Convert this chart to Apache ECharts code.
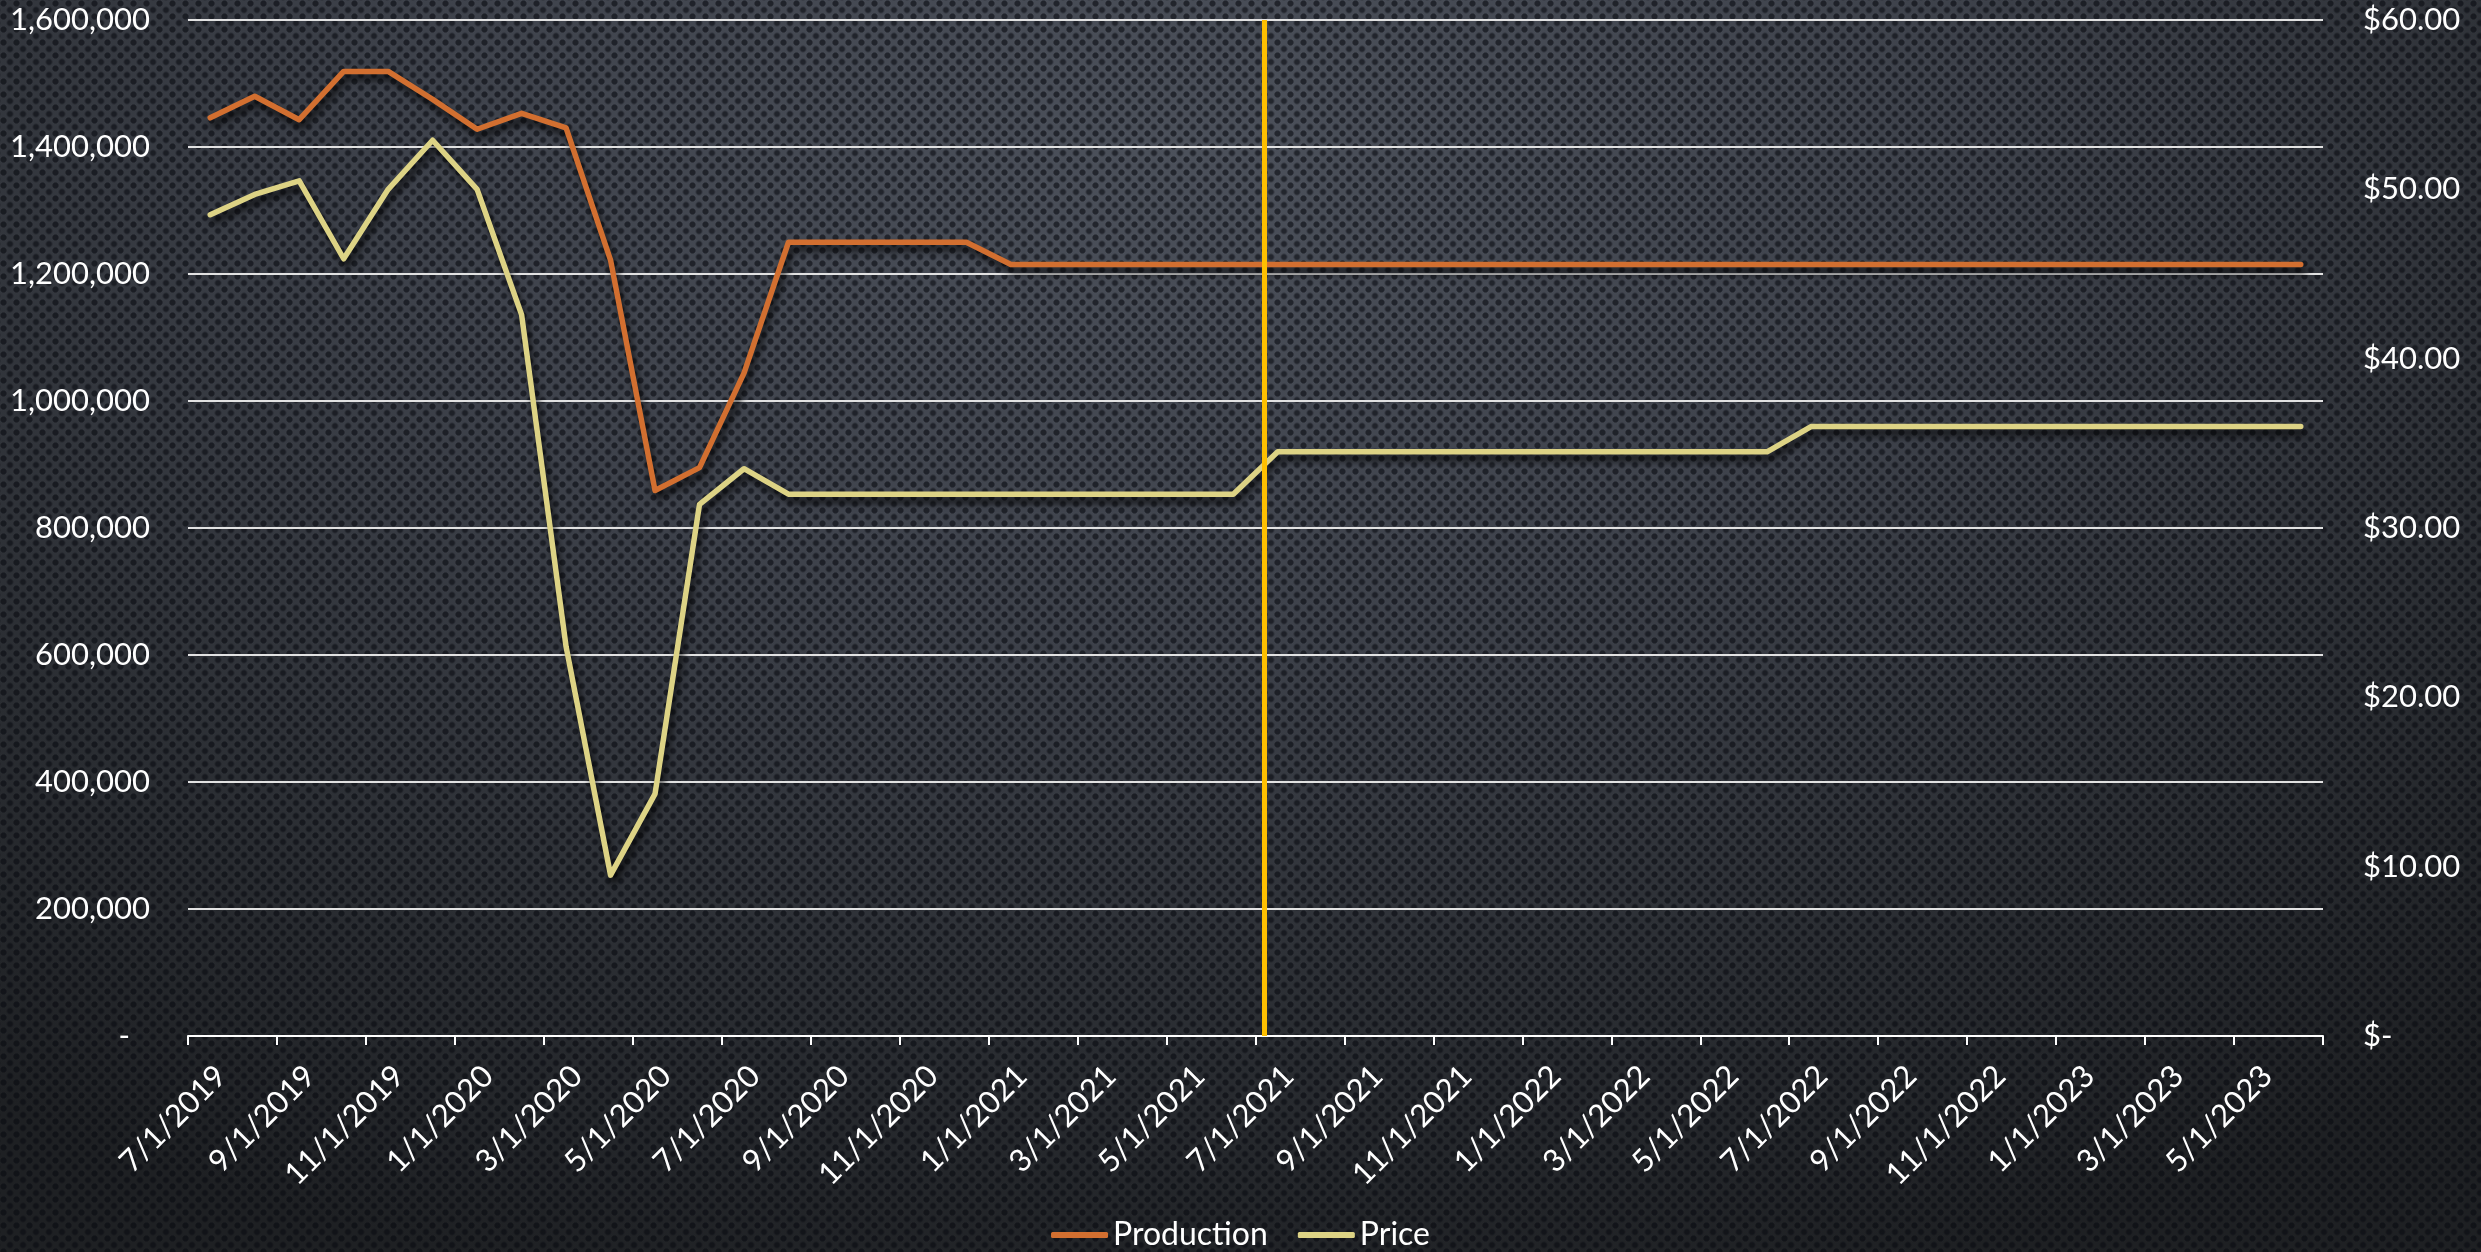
<!DOCTYPE html>
<html>
<head>
<meta charset="utf-8">
<script src="https://cdn.jsdelivr.net/npm/echarts@6/dist/echarts.min.js"></script>
<style>
html,body{margin:0;padding:0;background:#1d1f22;}
#wrap{width:2481px;height:1252px;position:relative;overflow:hidden;
background:
radial-gradient(circle at 3.5px 3.5px, rgba(8,10,16,0.6) 2.5px, rgba(8,10,16,0) 3.6px) 0 0/13px 13px,
radial-gradient(circle at 3.5px 3.5px, rgba(8,10,16,0.6) 2.5px, rgba(8,10,16,0) 3.6px) 6.5px 6.5px/13px 13px,
radial-gradient(ellipse 80% 95% at 48% 12%, #4c515b 0%, #3e424b 40%, #2a2d32 75%, #1e2023 100%);}
#chart{width:2481px;height:1252px;}
</style>
</head>
<body>
<div id="wrap"><div id="chart"></div></div>
<script>
// Month categories (one data point per month)
const months = [
  '7/1/2019','8/1/2019','9/1/2019','10/1/2019','11/1/2019','12/1/2019',
  '1/1/2020','2/1/2020','3/1/2020','4/1/2020','5/1/2020','6/1/2020',
  '7/1/2020','8/1/2020','9/1/2020','10/1/2020','11/1/2020','12/1/2020',
  '1/1/2021','2/1/2021','3/1/2021','4/1/2021','5/1/2021','6/1/2021',
  '7/1/2021','8/1/2021','9/1/2021','10/1/2021','11/1/2021','12/1/2021',
  '1/1/2022','2/1/2022','3/1/2022','4/1/2022','5/1/2022','6/1/2022',
  '7/1/2022','8/1/2022','9/1/2022','10/1/2022','11/1/2022','12/1/2022',
  '1/1/2023','2/1/2023','3/1/2023','4/1/2023','5/1/2023','6/1/2023'
];

// Production (left axis)
const production = [
  1446000, 1480000, 1443000, 1519000, 1519000, 1475000,
  1428000, 1453000, 1430000, 1222000, 859000, 895000,
  1044000, 1250000, 1250000, 1250000, 1250000, 1250000,
  1215000, 1215000, 1215000, 1215000, 1215000, 1215000,
  1215000, 1215000, 1215000, 1215000, 1215000, 1215000,
  1215000, 1215000, 1215000, 1215000, 1215000, 1215000,
  1215000, 1215000, 1215000, 1215000, 1215000, 1215000,
  1215000, 1215000, 1215000, 1215000, 1215000, 1215000
];

// Price (right axis, $)
const price = [
  48.5, 49.7, 50.5, 45.9, 50.0, 52.9,
  50.0, 42.6, 23.0, 9.5, 14.3, 31.4,
  33.5, 32.0, 32.0, 32.0, 32.0, 32.0,
  32.0, 32.0, 32.0, 32.0, 32.0, 32.0,
  34.5, 34.5, 34.5, 34.5, 34.5, 34.5,
  34.5, 34.5, 34.5, 34.5, 34.5, 34.5,
  36.0, 36.0, 36.0, 36.0, 36.0, 36.0,
  36.0, 36.0, 36.0, 36.0, 36.0, 36.0
];

// Left and right axis tick settings
const leftAxisMax = 1600000, leftAxisStep = 200000;
const rightAxisMax = 60, rightAxisStep = 10;

// Vertical marker position, in months from 7/1/2019
const markerMonth = 24.2;

const FONT = 'Lato, "Open Sans", sans-serif';
const TXT = '#ffffff';
const shadow = {shadowColor:'rgba(0,0,0,0.8)', shadowBlur:7, shadowOffsetX:3, shadowOffsetY:6};

const chart = echarts.init(document.getElementById('chart'), null, {renderer:'canvas'});
chart.setOption({
  backgroundColor: 'transparent',
  animation: false,
  textStyle: {fontFamily: FONT},
  grid: {left:188, right:158, top:20, bottom:216, containLabel:false},
  legend: {
    data: ['Production','Price'],
    top: 1214, left: 'center',
    icon: 'roundRect', itemWidth: 57, itemHeight: 6, itemGap: 30,
    textStyle: {color: TXT, fontSize: 32, fontFamily: FONT, padding:[0,0,0,0]}
  },
  xAxis: [{
    type: 'category',
    data: months,
    boundaryGap: true,
    axisLine: {show:true, lineStyle:{color:'#ffffff', width:2}},
    axisTick: {show:true, interval:1, length:9, lineStyle:{color:'#ffffff', width:2}},
    axisLabel: {
      interval: 1, rotate: 45, align:'right', verticalAlign:'top', margin: 24,
      color: TXT, fontSize: 31, fontFamily: FONT
    },
    splitLine: {show:false}
  }, {
    type: 'value', min: 0, max: months.length, show: false
  }],
  yAxis: [{
    type: 'value', min: 0, max: leftAxisMax, interval: leftAxisStep,
    axisLine: {show:false}, axisTick: {show:false},
    splitLine: {show:true, lineStyle:{color:'#e2e2e2', width:2}},
    axisLabel: {
      margin: 38, color: TXT, fontSize: 31, fontFamily: FONT,
      formatter: v => v === 0 ? '{d|-}' : v.toLocaleString('en-US'),
      rich: {d: {color: TXT, fontSize: 31, fontFamily: FONT, padding:[0,20,0,0]}}
    }
  }, {
    type: 'value', min: 0, max: rightAxisMax, interval: rightAxisStep,
    position: 'right',
    axisLine: {show:false}, axisTick: {show:false}, splitLine: {show:false},
    axisLabel: {
      margin: 40, color: TXT, fontSize: 31, fontFamily: FONT,
      formatter: v => v === 0 ? '$-' : '$' + v.toFixed(2)
    }
  }],
  series: [{
    name: 'Production', type: 'line', xAxisIndex: 0, yAxisIndex: 0,
    data: production, showSymbol: false, symbol: 'none', smooth: false,
    itemStyle: {color: '#d26f30'},
    lineStyle: Object.assign({color:'#d26f30', width:5.5, cap:'round', join:'round'}, shadow),
    z: 3
  }, {
    name: 'Price', type: 'line', xAxisIndex: 0, yAxisIndex: 1,
    data: price, showSymbol: false, symbol: 'none', smooth: false,
    itemStyle: {color: '#ddd385'},
    lineStyle: Object.assign({color:'#ddd385', width:5.5, cap:'round', join:'round'}, shadow),
    z: 3
  }, {
    name: 'marker', type: 'line', xAxisIndex: 1, yAxisIndex: 0,
    data: [], showSymbol: false, silent: true,
    markLine: {
      silent: true, symbol: ['none','none'], animation: false,
      label: {show:false},
      lineStyle: {color:'#ffc000', width:5, type:'solid'},
      data: [{xAxis: markerMonth}]
    },
    z: 4
  }]
});
</script>
</body>
</html>
